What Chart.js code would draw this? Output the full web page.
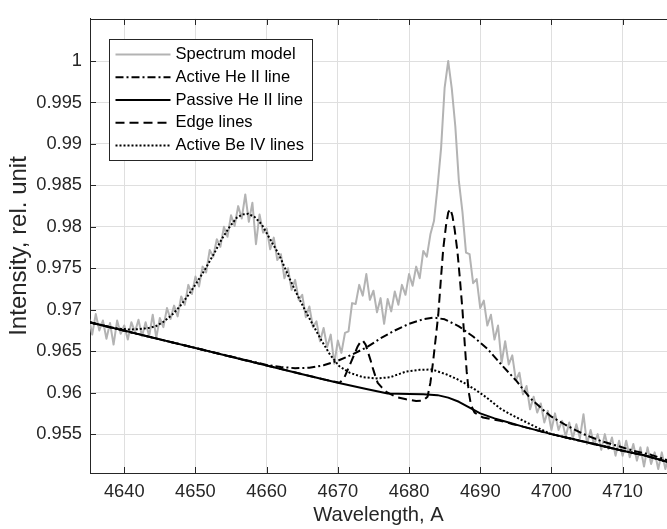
<!DOCTYPE html>
<html><head><meta charset="utf-8">
<script src="https://cdn.jsdelivr.net/npm/chart.js@4.4.1/dist/chart.umd.min.js"></script>
<style>html,body{margin:0;padding:0;background:#fff;}canvas{display:block;}</style>
</head><body>
<canvas id="c" width="667" height="529"></canvas>
<script>
// ---- axis ticks ----
const xTicks = [4640, 4650, 4660, 4670, 4680, 4690, 4700, 4710];
const xTickLabels = ['4640', '4650', '4660', '4670', '4680', '4690', '4700', '4710'];
const yTicks = [0.955, 0.96, 0.965, 0.97, 0.975, 0.98, 0.985, 0.99, 0.995, 1];
const yTickLabels = ['0.955', '0.96', '0.965', '0.97', '0.975', '0.98', '0.985', '0.99', '0.995', '1'];
const xRange = [4635.19, 4716.23];
const yRange = [0.95031, 1.00507];
const xTitle = 'Wavelength, A';
const yTitle = 'Intensity, rel. unit';
const seriesNames = ['Spectrum model', 'Active He II line', 'Passive He II line', 'Edge lines', 'Active Be IV lines'];

// ---- Spectrum model (grey, noisy) ----
const specWave = [4635,4635.5,4636,4636.5,4637,4637.5,4638,4638.5,4639,4639.5,4640,4640.5,4641,4641.5,4642,4642.5,4643,4643.5,4644,4644.5,
4645,4645.5,4646,4646.5,4647,4647.5,4648,4648.5,4649,4649.5,4650,4650.5,4651,4651.5,4652,4652.5,4653,4653.5,4654,4654.5,
4655,4655.5,4656,4656.5,4657,4657.5,4658,4658.5,4659,4659.5,4660,4660.5,4661,4661.5,4662,4662.5,4663,4663.5,4664,4664.5,
4665,4665.5,4666,4666.5,4667,4667.5,4668,4668.5,4669,4669.5,4670,4670.5,4671,4671.5,4672,4672.5,4673,4673.5,4674,4674.5,
4675,4675.5,4676,4676.5,4677,4677.5,4678,4678.5,4679,4679.5,4680,4680.5,4681,4681.5,4682,4682.5,4683,4683.5,4684,4684.5,
4685,4685.5,4686,4686.5,4687,4687.5,4688,4688.5,4689,4689.5,4690,4690.5,4691,4691.5,4692,4692.5,4693,4693.5,4694,4694.5,
4695,4695.5,4696,4696.5,4697,4697.5,4698,4698.5,4699,4699.5,4700,4700.5,4701,4701.5,4702,4702.5,4703,4703.5,4704,4704.5,
4705,4705.5,4706,4706.5,4707,4707.5,4708,4708.5,4709,4709.5,4710,4710.5,4711,4711.5,4712,4712.5,4713,4713.5,4714,4714.5,
4715,4715.5,4716,4716.5];
const specIntensity = [0.9692,0.9670,0.9695,0.9675,0.9687,0.9665,0.9684,0.9658,0.9687,0.9671,0.9681,0.9664,0.9685,0.9673,0.9688,0.9668,0.9685,0.9668,0.9694,0.9666,
0.9690,0.9679,0.9702,0.9689,0.9705,0.9692,0.9716,0.9706,0.9730,0.9719,0.9740,0.9728,0.9752,0.9745,0.9772,0.9764,0.9785,0.9776,0.9800,0.9788,
0.9814,0.9801,0.9825,0.9810,0.9839,0.9806,0.9829,0.9779,0.9815,0.9793,0.9798,0.9773,0.9787,0.9760,0.9767,0.9738,0.9750,0.9724,0.9736,0.9712,
0.9718,0.9691,0.9704,0.9679,0.9686,0.9662,0.9678,0.9655,0.9670,0.9635,0.9663,0.9648,0.9672,0.9674,0.9708,0.9707,0.9730,0.9717,0.9743,0.9712,
0.9723,0.9697,0.9714,0.9683,0.9713,0.9698,0.9722,0.9706,0.9730,0.9718,0.9743,0.9729,0.9752,0.9738,0.9771,0.9764,0.9791,0.9807,0.9848,0.9895,
0.9968,1.0000,0.9967,0.9921,0.9855,0.9818,0.9769,0.9767,0.9732,0.9737,0.9702,0.9711,0.9681,0.9694,0.9664,0.9681,0.9636,0.9662,0.9634,0.9645,
0.9615,0.9624,0.9598,0.9608,0.9580,0.9595,0.9576,0.9587,0.9564,0.9578,0.9555,0.9575,0.9555,0.9566,0.9547,0.9564,0.9545,0.9562,0.9545,0.9574,
0.9538,0.9555,0.9537,0.9550,0.9531,0.9550,0.9532,0.9546,0.9524,0.9542,0.9524,0.9542,0.9522,0.9538,0.9518,0.9534,0.9511,0.9534,0.9514,0.9528,
0.9508,0.9528,0.9508,0.9525];

// ---- Active He II line (dash-dot) ----
const heActiveWave = [4635,4645,4655,4658,4660,4662,4664,4666,4668,4670,4672,4674,4676,4678,4680,4682,4683.5,4685,4687,4689,4691,4693,4695,4697,4699,4700,4702,4704.5,4707,4709,4711.5,4714,4716.5];
const heActiveIntensity = [0.96852,0.96643,0.96435,0.96375,0.96335,0.96310,0.96295,0.96300,0.96330,0.96385,0.96460,0.96545,0.96655,0.96750,0.96830,0.96885,0.96905,0.96885,0.96800,0.96677,0.96530,0.96335,0.96150,0.95935,0.95780,0.95710,0.95610,0.95500,0.95415,0.95365,0.95300,0.95250,0.95180];

// ---- Passive He II line (solid) ----
const hePassiveWave = [4635,4640,4645,4650,4655,4660,4665,4670,4674,4677,4680,4682,4684,4685.5,4687,4688.5,4690,4692,4694,4696,4698,4700,4703,4706,4710,4713,4716.5];
const hePassiveIntensity = [0.96852,0.96748,0.96643,0.96538,0.96433,0.96328,0.96223,0.96119,0.96045,0.95990,0.95985,0.95982,0.95970,0.95940,0.95890,0.95820,0.95750,0.95690,0.95640,0.95590,0.95545,0.95500,0.95440,0.95380,0.95300,0.95245,0.95160];

// ---- Edge lines (dashed) ----
const edgeWave = [4635,4650,4660,4668,4670.3,4671,4671.7,4672.3,4672.8,4673.2,4673.5,4673.9,4674.2,4674.6,4674.9,4675.3,4675.6,4676.2,4676.8,4678.2,4679.6,4681,4682,4682.6,4683,4683.4,4683.8,4684.1,4684.5,4684.8,4685.2,4685.5,4685.8,4686.1,4686.4,4686.8,4687.1,4687.5,4687.8,4688.1,4688.4,4688.7,4689.2,4690.4,4691.6,4692.8,4694.6,4696,4698,4700,4703,4706,4710,4713,4716.5];
const edgeIntensity = [0.96852,0.96538,0.96328,0.96160,0.96120,0.96200,0.96339,0.96460,0.96560,0.96615,0.96630,0.96580,0.96498,0.96390,0.96299,0.96190,0.96119,0.96060,0.96010,0.95948,0.95920,0.95900,0.95905,0.95950,0.96120,0.96390,0.96700,0.96937,0.97400,0.97733,0.98020,0.98172,0.98215,0.98130,0.97972,0.97700,0.97415,0.97000,0.96618,0.96250,0.96000,0.95850,0.95760,0.95700,0.95680,0.95661,0.95620,0.95590,0.95545,0.95500,0.95440,0.95380,0.95300,0.95245,0.95160];

// ---- Active Be IV lines (dotted) ----
const beWave = [4635,4637,4638.7,4640.5,4642,4643.3,4644.4,4645.5,4646.7,4647.9,4649,4650.2,4651.4,4652.6,4653.7,4654.8,4655.8,4656.6,4657.4,4658.3,4659.3,4660.5,4661.8,4663.2,4664.1,4665.3,4666.5,4667.7,4668.9,4670.2,4671.7,4673.5,4675.4,4677.3,4679.6,4681.5,4683.2,4685.3,4686.7,4688.1,4689.5,4690.9,4692.8,4694.2,4695.6,4697,4698.4,4699.9,4703,4706,4710,4713,4716.5];
const beIntensity = [0.96852,0.96810,0.96777,0.96762,0.96765,0.96778,0.96800,0.96855,0.96937,0.97050,0.97176,0.97330,0.97494,0.97675,0.97853,0.98000,0.98110,0.98150,0.98158,0.98120,0.98030,0.97850,0.97653,0.97380,0.97215,0.97010,0.96817,0.96630,0.96459,0.96319,0.96239,0.96187,0.96172,0.96185,0.96255,0.96275,0.96280,0.96219,0.96165,0.96100,0.96025,0.95940,0.95810,0.95741,0.95680,0.95620,0.95562,0.95502,0.95440,0.95380,0.95300,0.95245,0.95160];

const toXY = (xs, ys) => xs.map((x, i) => ({x: x, y: ys[i]}));
const AXIS = '#262626', GRID = '#dfdfdf';
const FONT = '"Liberation Sans", Arial, Helvetica, sans-serif';
Chart.defaults.font.family = FONT;

const datasets = [
  {label: seriesNames[4], data: toXY(beWave, beIntensity), borderColor: '#000', borderWidth: 2, borderDash: [2, 2], order: 1},
  {label: seriesNames[3], data: toXY(edgeWave, edgeIntensity), borderColor: '#000', borderWidth: 2, borderDash: [9, 5], order: 2},
  {label: seriesNames[2], data: toXY(hePassiveWave, hePassiveIntensity), borderColor: '#000', borderWidth: 2, borderDash: [], order: 3},
  {label: seriesNames[1], data: toXY(heActiveWave, heActiveIntensity), borderColor: '#000', borderWidth: 2, borderDash: [8, 3, 2, 3], order: 4},
  {label: seriesNames[0], data: toXY(specWave, specIntensity), borderColor: '#b3b3b3', borderWidth: 2, borderDash: [], order: 5}
];
datasets.forEach(d => { d.showLine = true; d.pointRadius = 0; d.tension = 0; d.borderCapStyle = 'butt'; d.borderJoinStyle = 'round'; d.fill = false; });
const legendOrder = [4, 3, 2, 1, 0];

const framePlugin = {
  id: 'frame',
  beforeDatasetsDraw(chart) {
    const {ctx, chartArea: a, scales: {x, y}} = chart;
    ctx.save();
    ctx.strokeStyle = AXIS; ctx.lineWidth = 1;
    ctx.beginPath();
    const ty = Math.round(a.top) + 0.5;
    ctx.moveTo(a.left, ty); ctx.lineTo(a.right, ty);
    x.ticks.forEach(t => {
      const px = Math.round(x.getPixelForValue(t.value)) + 0.5;
      ctx.moveTo(px, a.bottom); ctx.lineTo(px, a.bottom - 6);
      ctx.moveTo(px, a.top); ctx.lineTo(px, a.top + 6);
    });
    y.ticks.forEach(t => {
      const py = Math.round(y.getPixelForValue(t.value)) + 0.5;
      ctx.moveTo(a.left, py); ctx.lineTo(a.left + 6, py);
    });
    ctx.stroke();
    ctx.restore();
  }
};

const legendPlugin = {
  id: 'matlabLegend',
  afterDraw(chart) {
    const {ctx, chartArea: a} = chart;
    const bx = Math.round(a.left + 19) + 0.5, by = Math.round(a.top + 20) + 0.5, bw = 203, bh = 121;
    ctx.save();
    ctx.fillStyle = '#fff'; ctx.fillRect(bx, by, bw, bh);
    ctx.strokeStyle = AXIS; ctx.lineWidth = 1; ctx.setLineDash([]); ctx.strokeRect(bx, by, bw, bh);
    ctx.font = '16.5px ' + FONT; ctx.textBaseline = 'middle'; ctx.textAlign = 'left';
    legendOrder.forEach((idx, i) => {
      const ds = chart.data.datasets[idx];
      const cy = by + 15 + i * 22.75;
      ctx.strokeStyle = ds.borderColor; ctx.lineWidth = ds.borderWidth; ctx.lineCap = 'butt';
      ctx.setLineDash(ds.borderDash || []);
      ctx.beginPath(); ctx.moveTo(bx + 6, cy); ctx.lineTo(bx + 61, cy); ctx.stroke();
      ctx.setLineDash([]);
      ctx.fillStyle = '#000';
      ctx.fillText(ds.label, bx + 66, cy);
    });
    ctx.restore();
  }
};

new Chart(document.getElementById('c'), {
  type: 'scatter',
  data: {datasets: datasets},
  options: {
    responsive: false, animation: false, devicePixelRatio: 1,
    layout: {padding: {top: 15, right: 0, bottom: 0, left: 0}},
    plugins: {legend: {display: false}, tooltip: {enabled: false}},
    scales: {
      x: {
        type: 'linear', position: 'bottom', min: xRange[0], max: xRange[1],
        afterBuildTicks: s => { s.ticks = xTicks.map(v => ({value: v})); },
        afterFit: s => { s.height = 56; },
        ticks: {callback: (v) => xTickLabels[xTicks.indexOf(v)], color: AXIS, font: {size: 18.3}, padding: 8, maxRotation: 0, autoSkip: false},
        grid: {color: GRID, drawTicks: false, lineWidth: 1},
        border: {color: AXIS, width: 1},
        title: {display: true, text: xTitle, color: AXIS, font: {size: 20.2}, padding: {top: 0, bottom: 1}}
      },
      y: {
        type: 'linear', position: 'left', min: yRange[0], max: yRange[1],
        afterBuildTicks: s => { s.ticks = yTicks.map(v => ({value: v})); },
        afterFit: s => { s.width = 90; },
        ticks: {callback: (v) => yTickLabels[yTicks.indexOf(v)], color: AXIS, font: {size: 18.3}, padding: 8, autoSkip: false},
        grid: {color: GRID, drawTicks: false, lineWidth: 1},
        border: {color: AXIS, width: 1},
        title: {display: true, text: yTitle, color: AXIS, font: {size: 24}, padding: {top: 5, bottom: 0}}
      }
    }
  },
  plugins: [framePlugin, legendPlugin]
});
</script>
</body></html>
